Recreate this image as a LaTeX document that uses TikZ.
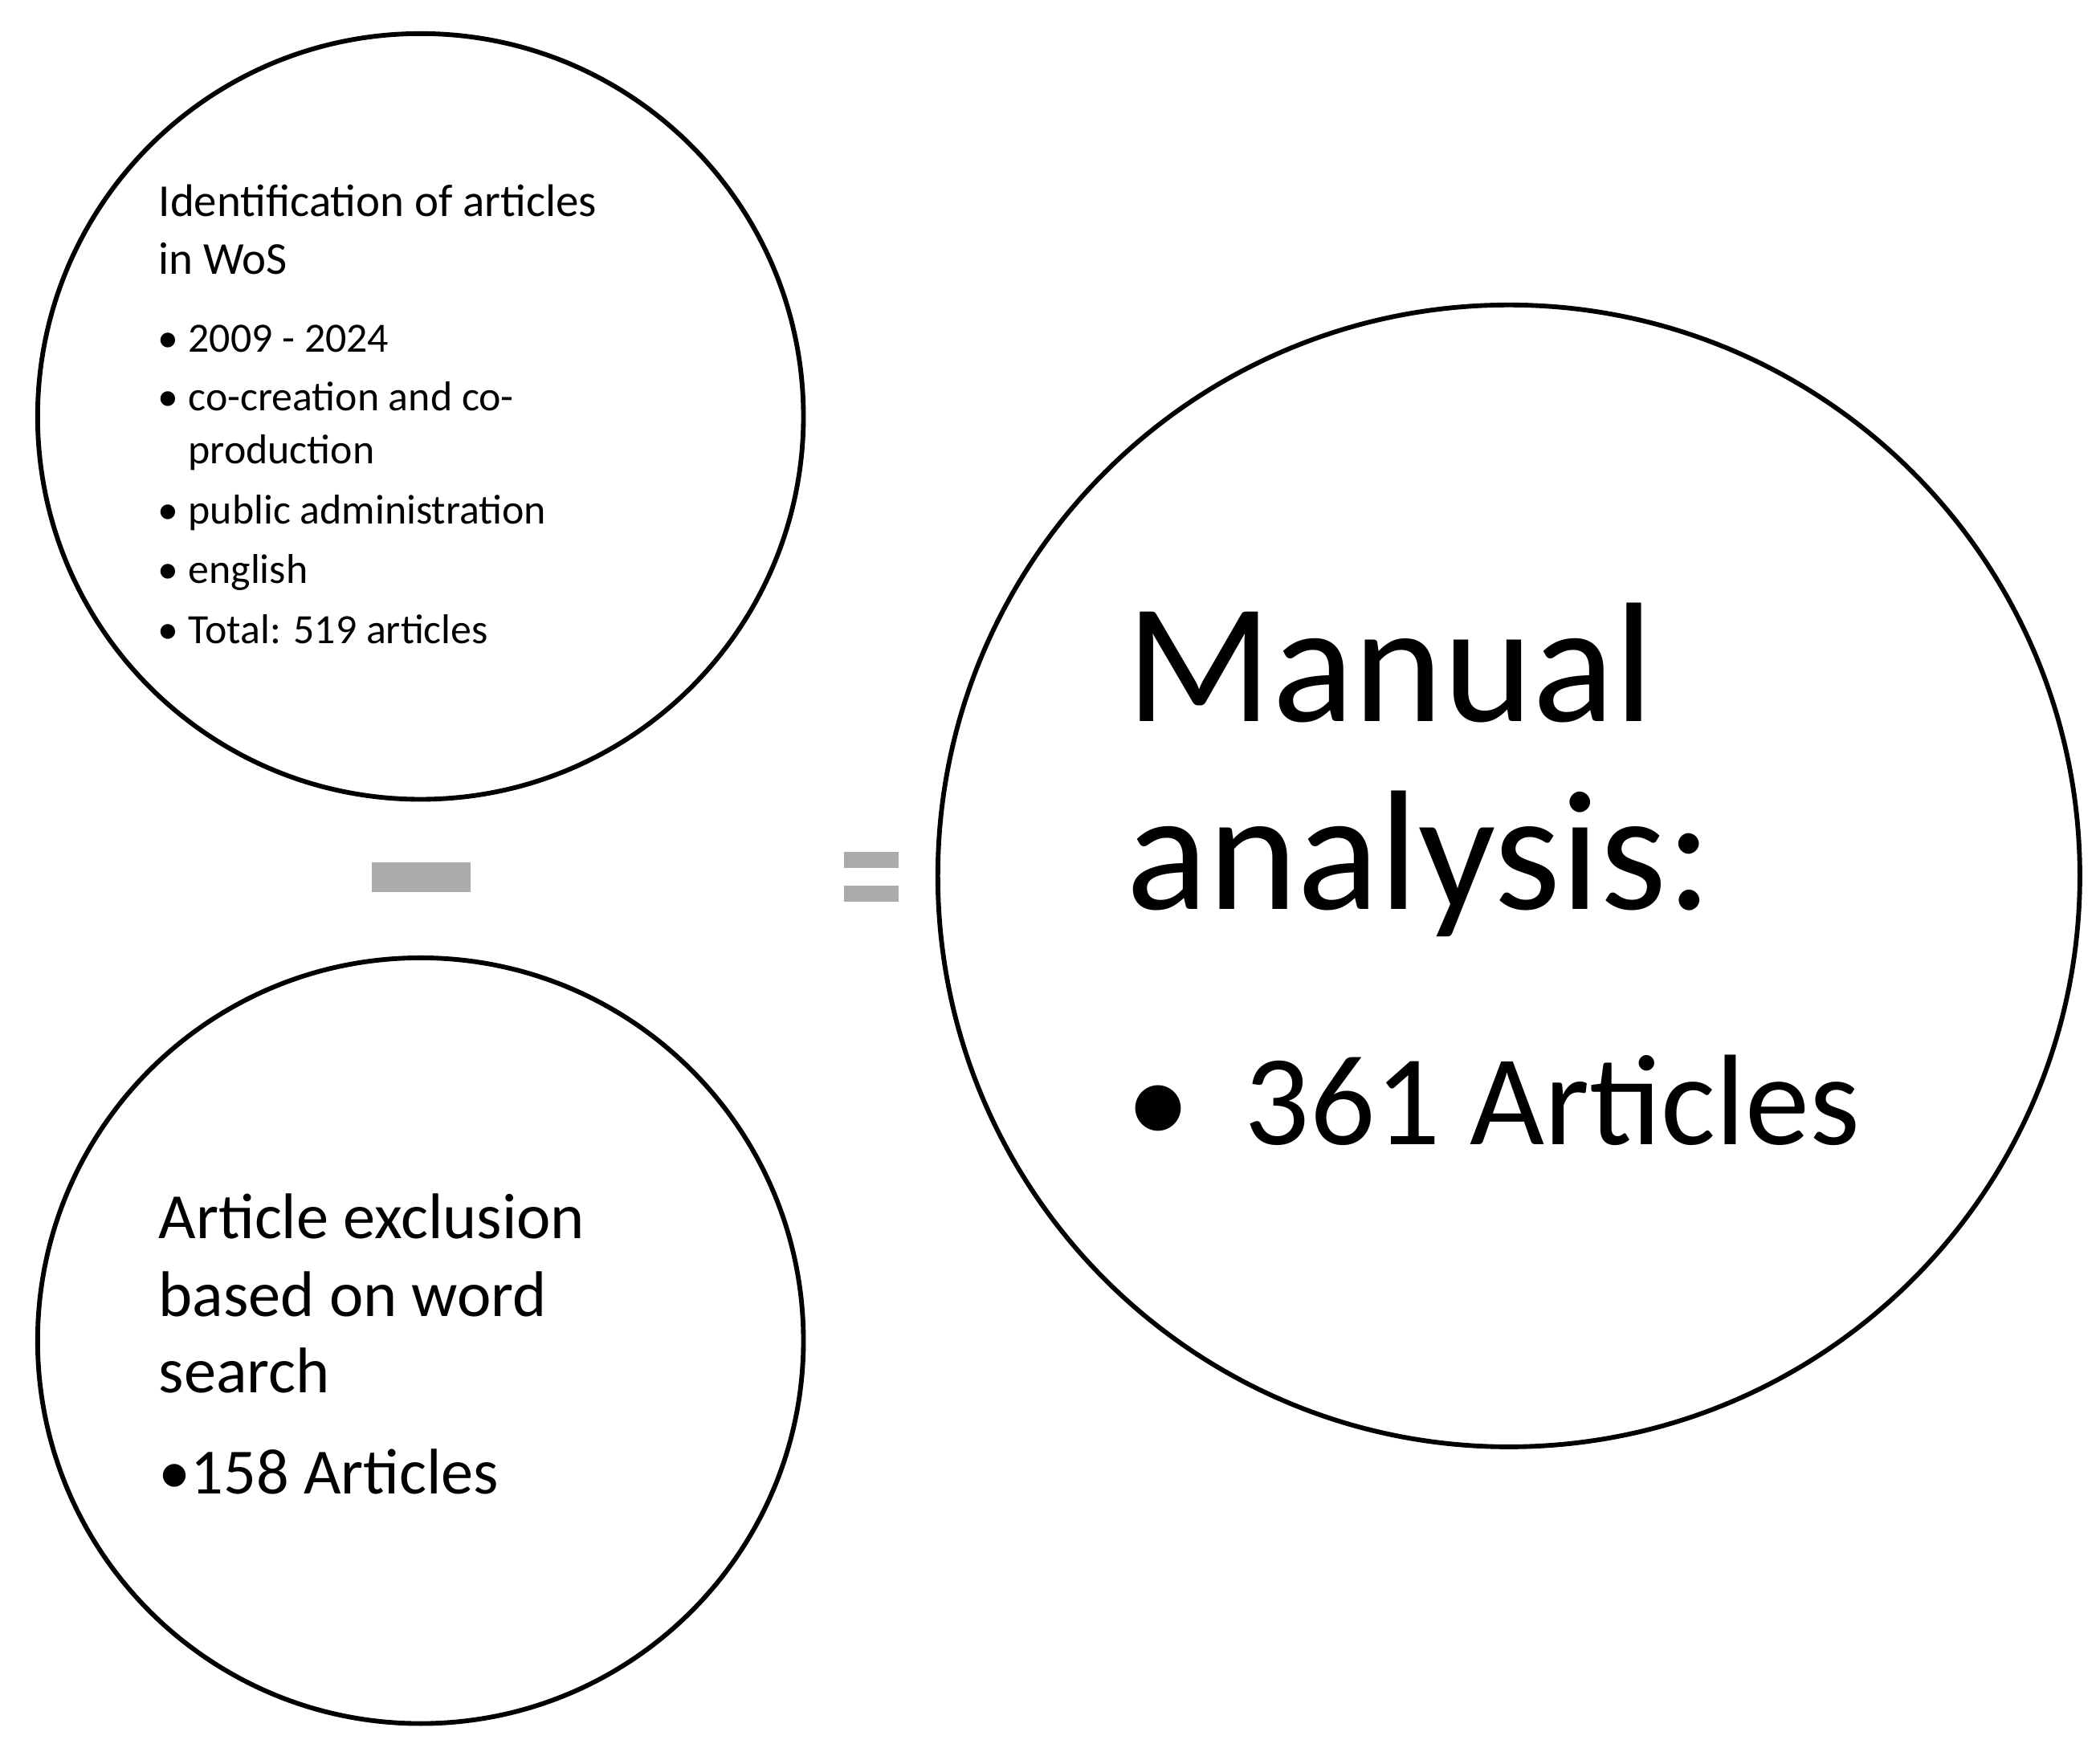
\documentclass[tikz,border=0pt]{standalone}
\usepackage{fontspec}
\setmainfont{Carlito}
\begin{document}
\begin{tikzpicture}[x=1pt,y=-1pt,
  circ/.style={draw=black,line width=3.5pt},
  t/.style={anchor=base west,inner sep=0pt},
  bar/.style={fill=black!33,draw=none}]
\useasboundingbox (0,0) rectangle (1563,1304);
\draw[circ] (313,310) circle (285);
\draw[circ] (313,998) circle (285);
\draw[circ] (1123,652) circle (425);
\fill[bar] (277,642) rectangle (350,664);
\fill[bar] (628,634) rectangle (669,646);
\fill[bar] (628,659) rectangle (669,671);
\begin{scope}[font=\fontsize{34}{40}\selectfont]
\node[t] (a1) at (118,161) {Identification of articles};
\node[t] (a2) at (118,204) {in WoS};
\end{scope}
\begin{scope}[font=\fontsize{31}{36}\selectfont]
\foreach \y/\s/\b in {262/2009 - 2024/1,306/co-creation and co-/1,345/production/0,390/public administration/1,434/english/1,479/Total: 519 articles/1}{
  \node[t] at (140,\y) {\s};
  \ifnum\b=1 \node[t] at (117,\y) {•};\fi
}
\end{scope}
\begin{scope}[font=\fontsize{48}{56}\selectfont]
\node[t] (b1) at (118,922) {Article exclusion};
\node[t] (b2) at (118,980) {based on word};
\node[t] (b3) at (118,1037) {search};
\node[t] (b4) at (118,1112) {•158 Articles};
\end{scope}
\node[t,font=\fontsize{127}{150}\selectfont] (c1) at (838,537) {Manual};
\node[t,font=\fontsize{127}{150}\selectfont] (c2) at (838,677) {analysis:};
\node[t,font=\fontsize{96}{110}\selectfont] (c3) at (838,852) {•};
\node[t,font=\fontsize{96}{110}\selectfont] (c4) at (926,852) {361 Articles};
\end{tikzpicture}
\end{document}
